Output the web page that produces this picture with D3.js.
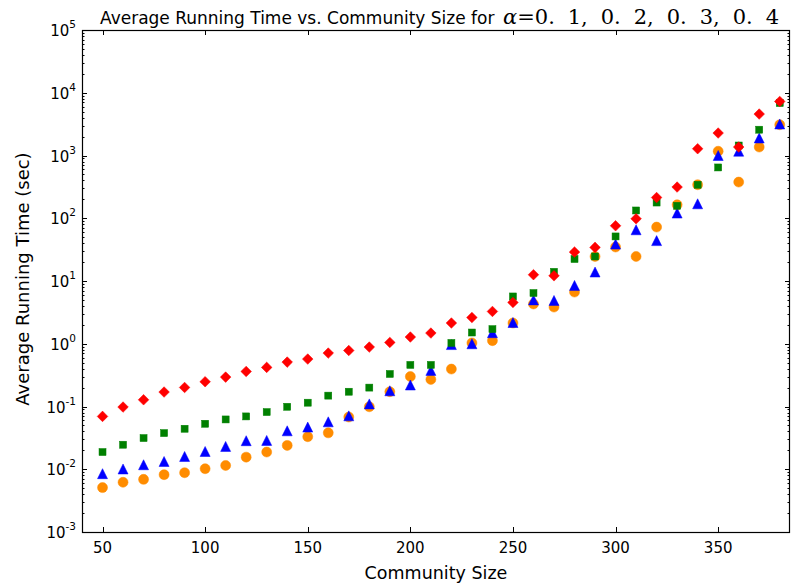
<!DOCTYPE html>
<html>
<head>
<meta charset="utf-8">
<script src="https://cdn.jsdelivr.net/npm/d3@7"></script>
<style>
  body { margin: 0; background: #fff; }
  svg text { font-family: "DejaVu Sans", sans-serif; }
</style>
</head>
<body>
<svg id="chart" width="791" height="585"></svg>
<script>
// community sizes
var sizes = [50,60,70,80,90,100,110,120,130,140,150,160,170,180,190,200,210,220,230,240,250,260,270,280,290,300,310,320,330,340,350,360,370,380];

// average running time (sec), one array per alpha
var alpha01 = [0.0695,0.098,0.128,0.17,0.201,0.248,0.294,0.362,0.42,0.51,0.57,0.71,0.78,0.885,1.05,1.28,1.48,2.14,2.62,3.27,4.55,12.6,12.1,28.9,34.3,75.9,98,214,314,1282,2280,1364,4576,7266];
var alpha02 = [0.0188,0.0246,0.0314,0.0377,0.0442,0.0531,0.0622,0.0695,0.0815,0.099,0.115,0.149,0.172,0.2,0.33,0.46,0.46,1.03,1.51,1.71,5.67,6.43,14.0,22.4,24.6,51.3,133,178,158,342,645,1443,2577,6855];
var alpha03 = [0.0085,0.0101,0.0118,0.0133,0.016,0.0192,0.0231,0.0285,0.0288,0.041,0.047,0.057,0.071,0.11,0.178,0.22,0.376,0.97,1.0,1.5,2.18,5.0,4.9,8.5,13.9,38.7,65.5,44,121,170,1000,1170,1900,3180];
var alpha04 = [0.0051,0.0062,0.0069,0.0082,0.0088,0.0102,0.0115,0.0156,0.0188,0.024,0.033,0.038,0.068,0.099,0.172,0.30,0.27,0.395,1.03,1.12,2.14,4.3,3.84,6.66,24.6,34.8,24.6,72.3,164,342,1170,377,1364,3090];

var xTicks = [50,100,150,200,250,300,350];
var yExps = [-3,-2,-1,0,1,2,3,4,5];

var svg = d3.select("#chart");
var L = 82, R = 790, T = 30, B = 532;

var x = d3.scaleLinear().domain([40,385]).range([L,R]);
var y = d3.scaleLog().domain([1e-3,1e5]).range([B,T]);

// minor ticks for the log axis
var minors = [];
yExps.slice(0,-1).forEach(function(e){
	for(var m=2;m<10;m++) minors.push(m*Math.pow(10,e));
});

var ax = svg.append("g").attr("stroke","#000").attr("stroke-width",1);
// major y ticks, left and right, pointing inward
yExps.forEach(function(e){
	var yy = Math.round(y(Math.pow(10,e)))+0.5;
	ax.append("line").attr("x1",L).attr("x2",L+5).attr("y1",yy).attr("y2",yy);
	ax.append("line").attr("x1",R-5).attr("x2",R).attr("y1",yy).attr("y2",yy);
});
minors.forEach(function(v){
	var yy = Math.round(y(v))+0.5;
	ax.append("line").attr("x1",L).attr("x2",L+2.5).attr("y1",yy).attr("y2",yy);
	ax.append("line").attr("x1",R-2.5).attr("x2",R).attr("y1",yy).attr("y2",yy);
});
xTicks.forEach(function(t){
	var xx = Math.round(x(t))+0.5;
	ax.append("line").attr("x1",xx).attr("x2",xx).attr("y1",B).attr("y2",B-5);
	ax.append("line").attr("x1",xx).attr("x2",xx).attr("y1",T).attr("y2",T+5);
});

// markers: orange circles, blue triangles, green squares, red diamonds (drawn in that order)
var tri = "M0,-5L5,5L-5,5Z";
function layer(data,color,draw){
	var g = svg.append("g").attr("fill",color).attr("stroke",color).attr("stroke-width",0.5);
	data.forEach(function(v,i){ draw(g, x(sizes[i]), y(v)); });
}
layer(alpha04,"#FF8C00",function(g,cx,cy){
	g.append("circle").attr("cx",cx).attr("cy",cy).attr("r",5);
});
layer(alpha03,"#0000FF",function(g,cx,cy){
	g.append("path").attr("d",tri).attr("transform","translate("+cx+","+cy+")");
});
layer(alpha02,"#008000",function(g,cx,cy){
	g.append("rect").attr("x",cx-3.5).attr("y",cy-3.5).attr("width",7).attr("height",7);
});
layer(alpha01,"#FF0000",function(g,cx,cy){
	g.append("path").attr("d",d3.symbol().type(d3.symbolSquare).size(56)()).attr("transform","translate("+cx+","+cy+") rotate(45)");
});

// frame
svg.append("rect").attr("x",L+0.5).attr("y",T+0.5).attr("width",R-L-1).attr("height",B-T).attr("fill","none").attr("stroke","#000").attr("stroke-width",1.2);

// tick labels
xTicks.forEach(function(t){
	svg.append("text").attr("x",x(t)).attr("y",B+20.5).attr("text-anchor","middle").attr("font-size",15).text(t);
});
yExps.forEach(function(e){
	var yy = y(Math.pow(10,e));
	var t = svg.append("text").attr("x",76).attr("y",yy+6).attr("text-anchor","end").attr("font-size",15);
	t.append("tspan").text("10");
	t.append("tspan").attr("font-size",10.5).attr("dy",-8).text(e<0 ? "-"+(-e) : e);
});

// axis titles
svg.append("text").attr("x",(L+R)/2).attr("y",579).attr("text-anchor","middle").attr("font-size",17.5).text("Community Size");
svg.append("text").attr("transform","translate(28.5,"+((T+B)/2-2)+") rotate(-90)").attr("text-anchor","middle").attr("font-size",18).text("Average Running Time (sec)");

// title in one text: sans part, then the math part in serif
var title = svg.append("text").attr("x",100).attr("y",24).attr("font-size",17);
title.append("tspan").text("Average Running Time vs. Community Size for ");
var math = title.append("tspan").attr("x",503).attr("font-size",20)
	.style("font-family","'DejaVu Serif', serif");
math.append("tspan").style("font-style","italic").text("α");
math.append("tspan").text("=0. 1, 0. 2, 0. 3, 0. 4");
var mlen = math.node().getComputedTextLength();
var fs = Math.min(21, 20*276/mlen);
math.attr("font-size", fs);
mlen = math.node().getComputedTextLength();
if(mlen < 276) math.style("word-spacing", ((276-mlen)/7)+"px");
</script>
</body>
</html>
